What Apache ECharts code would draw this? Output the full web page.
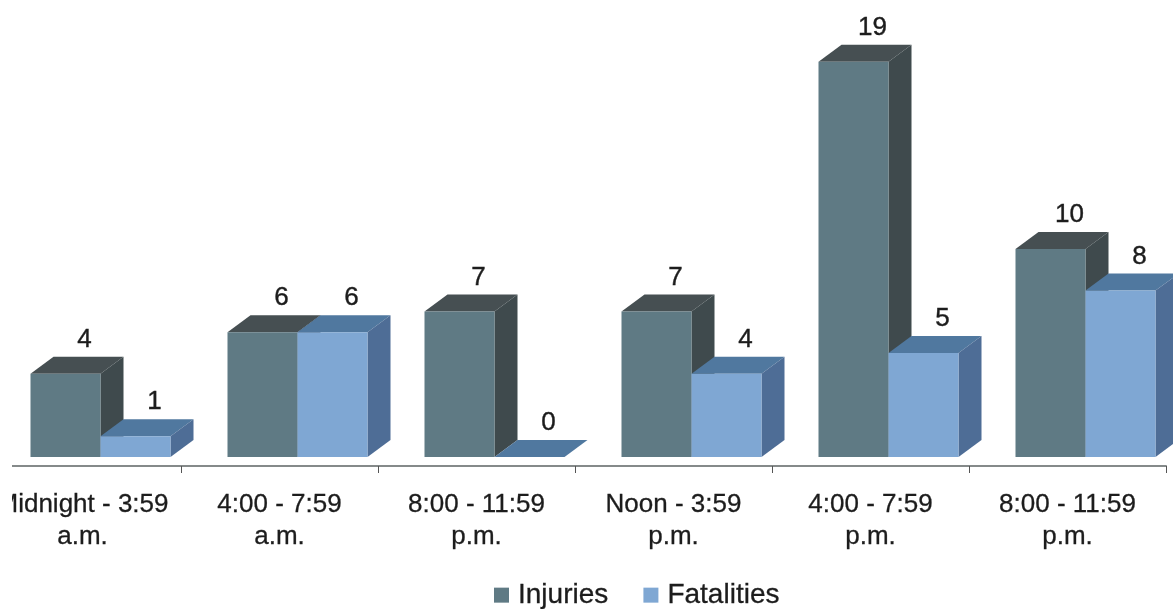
<!DOCTYPE html>
<html><head><meta charset="utf-8">
<style>html,body{margin:0;padding:0;background:#fff;overflow:hidden}#c{width:1189px;height:609px;margin-left:-16px}</style>
<script src="https://cdn.jsdelivr.net/npm/echarts@6/dist/echarts.min.js"></script>
</head><body><div id="c"></div>
<script>
const categories = ['Midnight - 3:59\na.m.','4:00 - 7:59\na.m.','8:00 - 11:59\np.m.','Noon - 3:59\np.m.','4:00 - 7:59\np.m.','8:00 - 11:59\np.m.'];
const injuries = [4,6,7,7,19,10];
const fatalities = [1,6,0,4,5,8];

const BAR_RATIO = 70/197, SHIFT_RATIO = 18/197, DX = 23, DY = 17;
const FONT = '"Liberation Sans", Arial, sans-serif';
const TEXT = '#1c1c1c';

function bar3d(slot, front, top, side) {
  return function (params, api) {
    const idx = api.value(0), val = api.value(1);
    const base = api.coord([idx, 0]);
    const head = api.coord([idx, val]);
    const band = api.size([1, 0])[0];
    const w = band * BAR_RATIO;
    const x0 = base[0] + band * SHIFT_RATIO + (slot === 0 ? -w : 0);
    const x1 = x0 + w, y0 = base[1], y1 = head[1];
    const poly = (pts, fill) => ({type:'polygon', shape:{points:pts}, style:{fill:fill, stroke:null}});
    return {
      type:'group',
      children:[
        poly([[x0,y1],[x0+DX,y1-DY],[x1+DX,y1-DY],[x1,y1]], top),
        poly([[x1,y1],[x1+DX,y1-DY],[x1+DX,y0-DY],[x1,y0]], side),
        {type:'rect', shape:{x:x0,y:y1,width:w,height:y0-y1}, style:{fill:front}},
        {type:'text', style:{text:String(val), x:(x0+x1)/2+19, y:y1-34, align:'center', verticalAlign:'middle',
          font:'26px '+FONT, fill:TEXT, stroke:TEXT, lineWidth:0.4}}
      ]
    };
  };
}

const chart = echarts.init(document.getElementById('c'), null, {renderer:'canvas'});
chart.setOption({
  animation:false,
  backgroundColor:'#fff',
  grid:{left:0, width:1182, top:41, bottom:143},
  xAxis:{type:'category', data:categories,
    axisLine:{onZero:false, lineStyle:{color:'#858a8a', width:2}},
    axisTick:{show:true, alignWithLabel:false, length:7, lineStyle:{color:'#555', width:1}},
    axisLabel:{interval:0, color:TEXT, fontFamily:FONT, fontSize:26, lineHeight:32, margin:23,
      textBorderColor:TEXT, textBorderWidth:0.3}},
  yAxis:{type:'value', min:-0.4327, max:20, show:false, splitLine:{show:false}},
  legend:{left:505, top:576, itemWidth:15, itemHeight:15, itemGap:35, icon:'rect',
    textStyle:{fontFamily:FONT, fontSize:28, color:TEXT, padding:[0,0,0,4], textBorderColor:TEXT, textBorderWidth:0.3},
    data:[{name:'Injuries', itemStyle:{color:'#5f7a84'}},{name:'Fatalities', itemStyle:{color:'#7fa7d3'}}]},
  series:[
    {name:'Injuries', type:'custom', clip:false, z:2, itemStyle:{color:'#5f7a84'},
     encode:{x:0,y:1}, renderItem:bar3d(0,'#5f7a84','#464f52','#3f4a4d'),
     data:injuries.map((v,i)=>[i,v])},
    {name:'Fatalities', type:'custom', clip:false, z:3, itemStyle:{color:'#7fa7d3'},
     encode:{x:0,y:1}, renderItem:bar3d(1,'#7fa7d3','#50789f','#4e6d96'),
     data:fatalities.map((v,i)=>[i,v])}
  ],
  graphic:[
    {type:'rect', left:0, top:458, shape:{width:28,height:100}, style:{fill:'#fff'}, z:100}
  ]
});
</script></body></html>
